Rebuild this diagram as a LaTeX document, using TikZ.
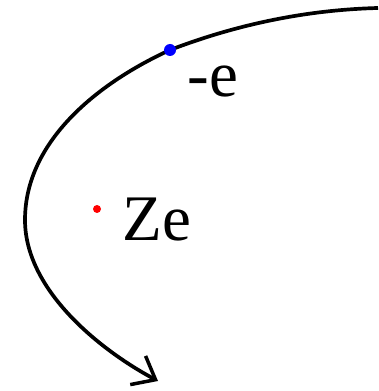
\documentclass[tikz,border=0pt]{standalone}
\usepackage{fontspec}
\newfontfamily\orbfont{Liberation Serif}
\usetikzlibrary{arrows.meta}
\usetikzlibrary{positioning}
\definecolor{orbBlack}{HTML}{000000}
\definecolor{orbBlue}{HTML}{0000FF}
\definecolor{orbRed}{HTML}{FF0000}
\tikzset{
  orb path/.style={
    -{Straight Barb[length=4mm,width=6.5mm,line width=2pt]},
    draw=orbBlack,
    line width=2.1pt,
  },
}
\tikzset{
  orb charge/.style={
    circle,
    inner sep=0pt,
    draw=none,
  },
}
\tikzset{
  orb label/.style={
    inner sep=0pt,
    anchor=base,
    font=\orbfont\fontsize{37}{40}\selectfont,
  },
}
\tikzset{
  orb figure/.style={
    x=0.02cm,
    y=-0.02cm,
  },
}
\begin{document}
\begin{tikzpicture}[orb figure]
  \useasboundingbox (0,0) rectangle (378,391);

  % =========================================================================
  % end points of the trajectory
  % =========================================================================
  \coordinate (trk_in)   at (378,8);
  \coordinate (trk_left) at (25,220);
  \coordinate (trk_out)  at (158,381);

  % =========================================================================
  % trajectory of the electron round the nucleus
  % =========================================================================
  \draw[orb path]
    (trk_in)
    .. controls (300,10) and (230,27) .. (170,50)   % through the electron
    .. controls (100,82) and (25,140) .. (trk_left) % leftmost point
    .. controls (25,290) and (100,350) .. (trk_out);

  % =========================================================================
  % electron on the path, nucleus inside
  % =========================================================================
  \node[orb charge, fill=orbBlue, minimum size=0.24cm]
    (electron) at (170,50) {};
  \node[orb charge, fill=orbRed, minimum size=0.16cm]
    (nucleus) at (97,209) {};

  % =========================================================================
  % labels
  % =========================================================================
  \node[orb label] (electron_lbl) at (213,97) {-e};
  \node[orb label] (nucleus_lbl)  at (157,240) {Ze};

\end{tikzpicture}
\end{document}
